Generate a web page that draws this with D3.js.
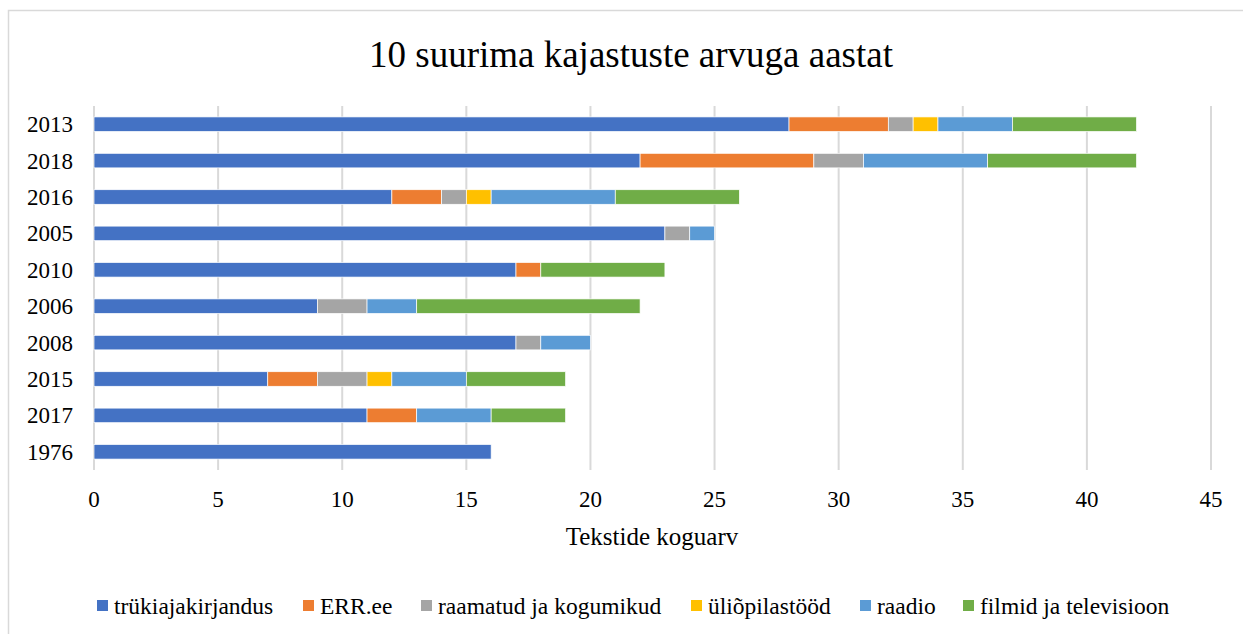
<!DOCTYPE html>
<html lang="et">
<head>
<meta charset="UTF-8">
<title>10 suurima kajastuste arvuga aastat</title>
<script src="https://cdnjs.cloudflare.com/ajax/libs/d3/7.8.5/d3.min.js"></script>
<style>
    body { margin: 0; background: #fff; }
    svg text { font-family: "Liberation Serif", "Times New Roman", serif; fill: #000; }
</style>
</head>
<body>
<div id="chart"></div>
<script>
    const years = ["2013", "2018", "2016", "2005", "2010", "2006", "2008", "2015", "2017", "1976"];
    const seriesNames = ["trükiajakirjandus", "ERR.ee", "raamatud ja kogumikud", "üliõpilastööd", "raadio", "filmid ja televisioon"];
    const colors = ["#4472c4", "#ed7d31", "#a5a5a5", "#ffc000", "#5b9bd5", "#70ad47"];

    const trukiajakirjandus = [28, 22, 12, 23, 17, 9, 17, 7, 11, 16];
    const errEe = [4, 7, 2, 0, 1, 0, 0, 2, 2, 0];
    const raamatud = [1, 2, 1, 1, 0, 2, 1, 2, 0, 0];
    const uliopilastood = [1, 0, 1, 0, 0, 0, 0, 1, 0, 0];
    const raadio = [3, 5, 5, 1, 0, 2, 2, 3, 3, 0];
    const filmid = [5, 6, 5, 0, 5, 9, 0, 4, 3, 0];
    const xTicks = [0, 5, 10, 15, 20, 25, 30, 35, 40, 45];

    const width = 1243, height = 634;
    const margin = { top: 106, right: 32, bottom: 164, left: 94 };

    const svg = d3.select("#chart").append("svg")
        .attr("width", width).attr("height", height);

    svg.append("rect")
        .attr("x", 8.5).attr("y", 10.5)
        .attr("width", 1240).attr("height", 640)
        .attr("fill", "none").attr("stroke", "#d9d9d9").attr("stroke-width", 1.5);

    svg.append("text")
        .attr("x", 631).attr("y", 67)
        .attr("text-anchor", "middle")
        .attr("font-size", 37)
        .text("10 suurima kajastuste arvuga aastat");

    const x = d3.scaleLinear().domain([0, 45]).range([margin.left, width - margin.right]);
    const y = d3.scaleBand().domain(years).range([margin.top, height - margin.bottom]).paddingInner(0.6).paddingOuter(0.3);

    // gridlines
    svg.append("g")
        .selectAll("line").data(xTicks).join("line")
        .attr("x1", d => x(d)).attr("x2", d => x(d))
        .attr("y1", margin.top).attr("y2", height - margin.bottom)
        .attr("stroke", "#d9d9d9").attr("stroke-width", 2);

    const table = years.map((yr, i) => ({
        year: yr,
        [seriesNames[0]]: trukiajakirjandus[i],
        [seriesNames[1]]: errEe[i],
        [seriesNames[2]]: raamatud[i],
        [seriesNames[3]]: uliopilastood[i],
        [seriesNames[4]]: raadio[i],
        [seriesNames[5]]: filmid[i]
    }));
    const stacked = d3.stack().keys(seriesNames)(table);

    svg.append("g")
        .selectAll("g").data(stacked).join("g")
        .attr("fill", (d, i) => colors[i])
        .selectAll("rect").data(d => d.filter(s => s[1] > s[0])).join("rect")
        .attr("x", d => x(d[0]))
        .attr("y", d => y(d.data.year))
        .attr("width", d => x(d[1]) - x(d[0]))
        .attr("height", y.bandwidth())
        .attr("stroke", "#fff").attr("stroke-width", 0.7);

    // y labels
    svg.append("g")
        .selectAll("text").data(years).join("text")
        .attr("x", 73).attr("y", d => y(d) + y.bandwidth() / 2)
        .attr("dy", "0.35em")
        .attr("text-anchor", "end")
        .attr("font-size", 23)
        .text(d => d);

    // x labels
    svg.append("g")
        .selectAll("text").data(xTicks).join("text")
        .attr("x", d => x(d)).attr("y", 507)
        .attr("text-anchor", "middle")
        .attr("font-size", 23)
        .text(d => d);

    svg.append("text")
        .attr("x", 652).attr("y", 545)
        .attr("text-anchor", "middle")
        .attr("font-size", 25)
        .text("Tekstide koguarv");

    // legend
    const legendX = [97, 303, 421, 691, 860, 963];
    const legend = svg.append("g")
        .selectAll("g").data(seriesNames).join("g")
        .attr("transform", (d, i) => `translate(${legendX[i]},606)`);
    legend.append("rect")
        .attr("x", 0).attr("y", -6).attr("width", 11).attr("height", 11)
        .attr("fill", (d, i) => colors[i]);
    legend.append("text")
        .attr("x", 17).attr("y", 0).attr("dy", "0.35em")
        .attr("font-size", 23.5)
        .text(d => d);
</script>
</body>
</html>
